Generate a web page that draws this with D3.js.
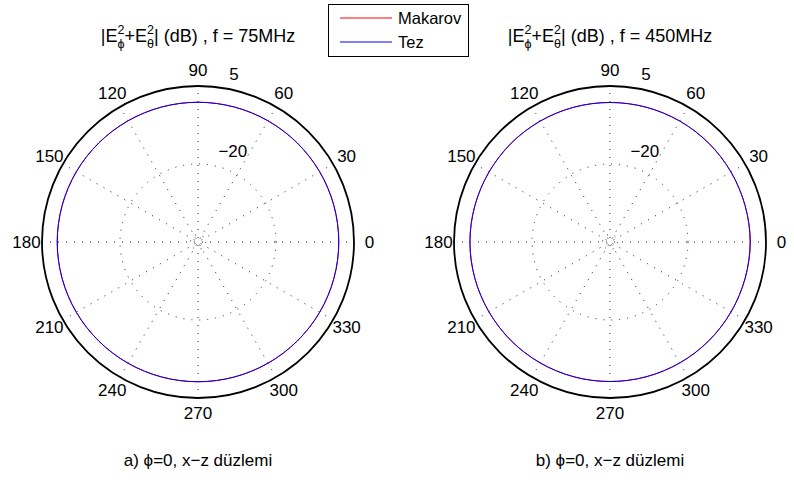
<!DOCTYPE html>
<html><head><meta charset="utf-8">
<script src="https://cdn.jsdelivr.net/npm/d3@7"></script>
<style>body{margin:0;background:#fff}svg{display:block;font-family:"Liberation Sans",Arial,sans-serif}</style>
</head><body>
<svg id="c" width="794" height="480"></svg>
<script>
// ---- data ----
const angles = [0,15,30,45,60,75,90,105,120,135,150,165,180,195,210,225,240,255,270,285,300,315,330,345];
const makarov75 = [0.15,0.12,0.05,-0.05,-0.12,-0.18,-0.2,-0.18,-0.12,-0.05,0.05,0.12,0.15,0.12,0.05,-0.05,-0.12,-0.18,-0.2,-0.18,-0.12,-0.05,0.05,0.12];
const tez75     = [0.1,0.08,0.02,-0.08,-0.15,-0.2,-0.22,-0.2,-0.15,-0.08,0.02,0.08,0.1,0.08,0.02,-0.08,-0.15,-0.2,-0.22,-0.2,-0.15,-0.08,0.02,0.08];
const makarov450 = [0.0,-0.15,-0.2,-0.22,-0.25,-0.27,-0.28,-0.27,-0.25,-0.22,-0.2,-0.15,-0.1,-0.15,-0.2,-0.22,-0.25,-0.27,-0.28,-0.27,-0.25,-0.22,-0.2,-0.15];
const tez450     = [-0.1,-0.15,-0.2,-0.22,-0.25,-0.27,-0.28,-0.27,-0.25,-0.22,-0.2,-0.15,-0.1,-0.15,-0.2,-0.22,-0.25,-0.27,-0.28,-0.27,-0.25,-0.22,-0.2,-0.15];
const rDomain = [-45, 5];
const ringValues = [-42.6, -20, 5];
const ringLabels = ["", "\u221220", "5"];
const spokeAngles = [0,30,60,90,120,150];
const angleLabels = ["0","30","60","90","120","150","180","210","240","270","300","330"];
const seriesNames = ["Makarov","Tez"];
const seriesColors = ["#ff0000","#0000ff"];
const freqs = ["75MHz","450MHz"];
const captions = ["a) \u03d5=0, x\u2212z d\u00fczlemi","b) \u03d5=0, x\u2212z d\u00fczlemi"];

const svg = d3.select("#c");
const R = 156;
const r = d3.scaleLinear().domain(rDomain).range([0, R]);
const rad = d => d*Math.PI/180;

function polar(cx, cy, seriesList, freq, caption){
  const g = svg.append("g").attr("transform", `translate(${cx},${cy})`);
  g.append("circle").attr("r", R).attr("fill","#fff");
  ringValues.forEach((v,i)=>{
    if (i < ringValues.length-1)
      g.append("circle").attr("r", r(v)).attr("fill","none").attr("stroke","#222")
       .attr("stroke-width",1).attr("stroke-dasharray","1 7");
  });
  spokeAngles.forEach(a=>{
    const x = R*Math.cos(rad(a)), y = -R*Math.sin(rad(a));
    g.append("line").attr("x1",-x).attr("y1",-y).attr("x2",x).attr("y2",y)
     .attr("stroke","#222").attr("stroke-width",1).attr("stroke-dasharray","1 7");
  });
  g.append("circle").attr("r", R).attr("fill","none").attr("stroke","#000").attr("stroke-width",1.8);
  const c82 = Math.cos(rad(82)), s82 = Math.sin(rad(82));
  ringValues.forEach((v,i)=>{
    if(!ringLabels[i]) return;
    const rr = r(v) + (r(5)-r(-20))/20;
    g.append("text").attr("x", rr*c82 + 9).attr("y", -rr*s82 - 3.5)
     .attr("font-size",17).attr("fill","#000").text(ringLabels[i]);
  });
  angleLabels.forEach((t,i)=>{
    const a = rad(i*30), rr = R*1.1;
    g.append("text").attr("x", rr*Math.cos(a)).attr("y", -rr*Math.sin(a))
     .attr("text-anchor","middle").attr("dominant-baseline","central")
     .attr("font-size",17).text(t);
  });
  const line = d3.lineRadial().angle((d,i)=>rad(90 - angles[i])).radius(d=>r(d)).curve(d3.curveCatmullRomClosed);
  seriesList.forEach((vals,k)=>{
    g.append("path").attr("d", line(vals)).attr("fill","none")
     .attr("stroke", seriesColors[k]).attr("stroke-width",1);
  });
  const tg = svg.append("g");
  const fs = 18, base = 42;
  let x = 0;
  const pieces = [{t:"|E"},{sup:"2",sub:"\u03d5"},{t:"+E"},{sup:"2",sub:"\u03b8"},{t:"| (dB) , f = "+freq}];
  pieces.forEach(p=>{
    if(p.t){
      const el = tg.append("text").attr("x",x).attr("y",base).attr("font-size",fs).text(p.t);
      x += el.node().getComputedTextLength();
    } else {
      const a = tg.append("text").attr("x",x).attr("y",base-8).attr("font-size",12.5).text(p.sup);
      const b = tg.append("text").attr("x",x).attr("y",base+6).attr("font-size",12.5).text(p.sub);
      x += Math.max(a.node().getComputedTextLength(), b.node().getComputedTextLength());
    }
  });
  tg.attr("transform", `translate(${cx - x/2},0)`);
  svg.append("text").attr("x",cx).attr("y",466).attr("text-anchor","middle").attr("font-size",17).text(caption);
}

polar(198, 242, [makarov75, tez75], freqs[0], captions[0]);
polar(610, 242, [makarov450, tez450], freqs[1], captions[1]);

const lg = svg.append("g");
lg.append("rect").attr("x",328.5).attr("y",4.5).attr("width",140).attr("height",52)
  .attr("fill","#fff").attr("stroke","#000").attr("stroke-width",1);
seriesNames.forEach((n,i)=>{
  const y = 18 + i*24;
  lg.append("line").attr("x1",340).attr("x2",392).attr("y1",y).attr("y2",y).attr("stroke",seriesColors[i]).attr("stroke-width",1);
  lg.append("text").attr("x",398).attr("y",y+6).attr("font-size",16.5).text(n);
});
</script>
</body></html>
